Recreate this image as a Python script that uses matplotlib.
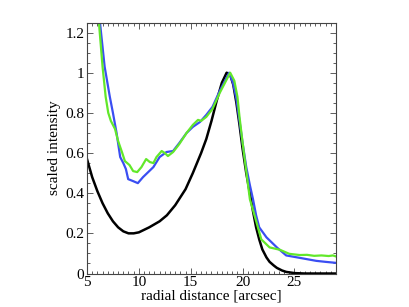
import matplotlib
matplotlib.use("Agg")
import matplotlib.pyplot as plt
from matplotlib.ticker import MultipleLocator

# perfiles radiales
x_black = [5, 5.5, 6, 6.5, 7, 7.5, 8, 8.5, 9, 9.5, 10, 11, 12, 12.7, 13.5, 14.5, 15.2, 16, 16.5,
           17, 17.5, 18, 18.46, 18.8, 19.1, 19.4, 19.7, 20, 20.35, 20.7, 21, 21.3, 21.6, 21.9,
           22.3, 22.6, 23.0, 23.3, 23.8, 24.2, 25, 26, 29]
y_black = [0.57, 0.48, 0.41, 0.35, 0.30, 0.26, 0.23, 0.21, 0.20, 0.20, 0.205, 0.23, 0.26, 0.29,
           0.34, 0.42, 0.50, 0.60, 0.67, 0.76, 0.86, 0.95, 1.0, 0.99, 0.94, 0.85, 0.74, 0.62,
           0.50, 0.40, 0.31, 0.23, 0.17, 0.12, 0.08, 0.058, 0.04, 0.028, 0.015, 0.008, 0.002,
           0.0, 0.0]

x_blue = [6.25, 6.7, 7.2, 7.5, 7.85, 8.2, 8.5, 8.75, 8.97, 9.45, 9.9, 10.4, 11.4, 12.0, 12.66,
          13.3, 13.9, 14.6, 15.2, 15.9, 16.5, 17.1, 17.8, 18.4, 18.7, 19.07, 19.4, 19.7, 20.0,
          20.35, 20.7, 21.0, 21.3, 21.6, 22.3, 23.3, 24.2, 25.5, 27.1, 28.0, 29.0]
y_blue = [1.25, 1.03, 0.88, 0.80, 0.70, 0.58, 0.55, 0.52, 0.47, 0.46, 0.45, 0.48, 0.53, 0.58,
          0.605, 0.61, 0.65, 0.70, 0.73, 0.755, 0.79, 0.83, 0.91, 0.97, 1.0, 0.95, 0.87, 0.76,
          0.65, 0.53, 0.44, 0.37, 0.29, 0.23, 0.18, 0.13, 0.09, 0.078, 0.063, 0.058, 0.053]

x_green = [6.15, 6.5, 6.8, 7.05, 7.3, 7.7, 8.0, 8.4, 8.65, 9.1, 9.45, 9.84, 10.25, 10.7, 11.06,
           11.4, 11.7, 12.2, 12.5, 12.8, 13.3, 13.9, 14.6, 15.2, 15.7, 16.0, 16.5, 17.1, 17.8,
           18.4, 18.8, 19.2, 19.5, 19.7, 20.0, 20.35, 20.7, 21.2, 21.8, 22.6, 23.6, 24.5,
           25.5, 26.2, 26.9, 27.6, 28.3, 28.7, 29.0]
y_green = [1.25, 1.03, 0.88, 0.80, 0.76, 0.72, 0.66, 0.60, 0.56, 0.54, 0.51, 0.505, 0.53, 0.57,
           0.555, 0.55, 0.58, 0.61, 0.60, 0.585, 0.605, 0.645, 0.70, 0.74, 0.765, 0.76, 0.78,
           0.82, 0.90, 0.96, 1.0, 0.96, 0.88, 0.78, 0.65, 0.51, 0.37, 0.28, 0.17, 0.13, 0.118,
           0.098, 0.092, 0.093, 0.088, 0.09, 0.087, 0.09, 0.085]

plt.rcParams['font.family'] = ['Liberation Serif', 'DejaVu Serif']

fig = plt.figure(figsize=(4.09, 3.07), dpi=100)
ax = fig.add_axes([0.2127, 0.1091, 0.6088, 0.8176])

ax.plot(x_black, y_black, color='black', linewidth=1.8)
ax.plot(x_blue, y_blue, color='#3a4ef2', linewidth=1.6)
ax.plot(x_green, y_green, color='#62e82a', linewidth=1.6)

ax.set_xlim(5, 29)
ax.set_ylim(0, 1.25)
ax.set_xticks([5, 10, 15, 20, 25])
ax.set_yticks([0, 0.2, 0.4, 0.6, 0.8, 1.0, 1.2])
ax.set_yticklabels(['0', '0.2', '0.4', '0.6', '0.8', '1', '1.2'])
ax.xaxis.set_minor_locator(MultipleLocator(0.5))
ax.yaxis.set_minor_locator(MultipleLocator(0.05))
ax.tick_params(which='both', direction='in', top=True, right=True, labelsize=11,
               color='#444444', pad=2)
ax.tick_params(which='major', length=4, width=0.6)
ax.tick_params(which='minor', length=2, width=0.6)
for s in ax.spines.values():
    s.set_color('#444444')
    s.set_linewidth(0.8)

ax.set_xlabel('radial distance [arcsec]', fontsize=11, labelpad=0)
ax.set_ylabel('scaled intensity', fontsize=11, labelpad=3)

fig.savefig('out.png', dpi=100)
